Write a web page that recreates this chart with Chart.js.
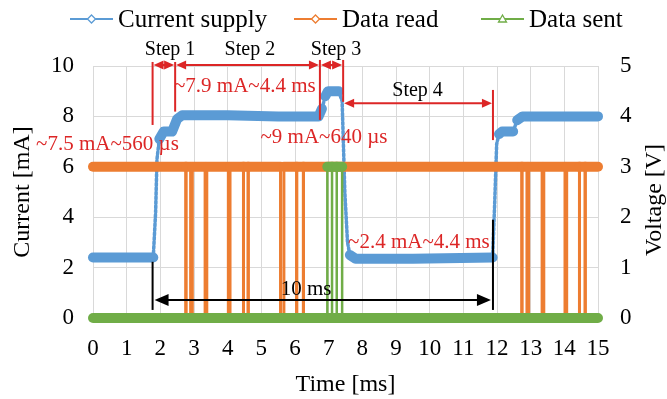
<!DOCTYPE html>
<html>
<head>
<meta charset="utf-8">
<script src="https://cdn.jsdelivr.net/npm/chart.js@4.4.0/dist/chart.umd.min.js"></script>
<style>
html,body{margin:0;padding:0;background:#fff;}
canvas{display:block;}
</style>
</head>
<body>
<canvas id="c" width="667" height="399"></canvas>
<script>
// ---------------- DATA ----------------
// Current supply, left axis [mA]
const currentTime = [0, 0.9, 1.79, 1.86, 1.9, 1.97, 2.1, 2.35, 2.5, 2.65, 4.0, 5.5, 6.7, 6.8, 6.9, 6.98, 7.3, 7.4, 7.48, 7.56, 7.63, 7.8, 9.5, 11.87, 11.93, 11.99, 12.06, 12.15, 12.48, 12.6, 12.76, 14.0, 15.0];
const currentMA   = [2.4, 2.4, 2.4, 4.2, 6.3, 7.1, 7.4, 7.4, 7.9, 8.05, 8.05, 8.0, 8.0, 8.3, 8.8, 9.0, 9.0, 8.6, 5.0, 3.0, 2.5, 2.35, 2.35, 2.4, 4.5, 6.9, 7.3, 7.4, 7.4, 7.85, 8.0, 8.0, 8.0];

// Data read, right axis [V]: idle level and low pulses (start / end time in ms)
const readHighV = 3.0;
const readLowV = 0;
const readPulseStart = [2.76, 2.90, 3.33, 4.02, 4.47, 4.61, 5.57, 6.05, 6.25, 12.74, 12.89, 13.34, 14.02, 14.45, 14.62];
const readPulseEnd   = [2.76, 2.95, 3.38, 4.07, 4.47, 4.61, 5.67, 6.05, 6.25, 12.74, 12.94, 13.39, 14.07, 14.45, 14.62];

// Data sent, right axis [V] (samples in recorded order; the trace returns along 0 V)
const sentTime = [0, 6.96, 6.96, 7.10, 7.10, 7.10, 7.24, 7.24, 7.24, 7.40, 7.40, 6.96, 15];
const sentV    = [0, 0,    3,    3,    0,    3,    3,    0,    3,    3,    0,    0,    0];

// Axis ticks
const timeTicks = [0, 15, 1];      // min, max, step [ms]
const currentTicks = [0, 10, 2];   // [mA]
const voltageTicks = [0, 5, 1];    // [V]

// Annotations (data units: ms, mA)
const stepLineTime = [1.77, 2.44, 6.74, 7.43, 11.88];
const stepLineTop  = [10.16, 10.16, 10.24, 10.24, 9.05];
const stepLineBot  = [7.66, 8.19, 7.86, 8.58, 7.06];
const stepArrowFrom = [1.77, 2.44, 6.74, 7.43];
const stepArrowTo   = [2.44, 6.74, 7.43, 11.88];
const stepArrowLevel = [10.04, 10.04, 10.04, 8.52];
const stepLabels = ['Step 1', 'Step 2', 'Step 3', 'Step 4'];
const stepLabelTime = [2.29, 4.66, 7.22, 9.64];
const stepLabelLevel = [10.44, 10.44, 10.44, 8.79];
const noteLabels = ['~7.5 mA~560 µs', '~7.9 mA~4.4 ms', '~9 mA~640 µs', '~2.4 mA~4.4 ms'];
const noteTime  = [0.43, 4.51, 6.86, 9.68];
const noteLevel = [6.67, 8.98, 6.96, 2.77];
const spanFrom = 1.77, spanTo = 11.88, spanLevel = 0.71;
const spanLineTop = [2.23, 3.9], spanLineBot = 0.32;
const spanLabel = '10 ms', spanLabelTime = 6.33, spanLabelLevel = 0.91;

// ---------------- BUILD ----------------
const currentPts = currentTime.map((t, i) => ({x: t, y: currentMA[i]}));
const readPts = [{x: 0, y: readHighV}];
readPulseStart.forEach((s, i) => {
  const e = readPulseEnd[i];
  readPts.push({x: s, y: readHighV}, {x: s, y: readLowV}, {x: e, y: readLowV}, {x: e, y: readHighV});
});
readPts.push({x: 15, y: readHighV});
const sentPts = sentTime.map((t, i) => ({x: t, y: sentV[i]}));

const FONT = "'Liberation Serif', 'Times New Roman', serif";
const BLUE = '#5B9BD5', ORANGE = '#ED7D31', GREEN = '#70AD47', RED = '#DC2626', GRID = '#D9D9D9';

const steep = c => Math.abs(c.p1.y - c.p0.y) > 2.5 * Math.abs(c.p1.x - c.p0.x);

function arrowHead(ctx, x, y, dir, len, half) {
  ctx.beginPath();
  ctx.moveTo(x, y);
  ctx.lineTo(x - dir * len, y - half);
  ctx.lineTo(x - dir * len, y + half);
  ctx.closePath();
  ctx.fill();
}

function marker(ctx, type, x, y, color) {
  ctx.save();
  ctx.strokeStyle = color; ctx.fillStyle = '#fff'; ctx.lineWidth = 1.3;
  ctx.beginPath();
  if (type === 'diamond') {
    ctx.moveTo(x, y - 4); ctx.lineTo(x + 4, y); ctx.lineTo(x, y + 4); ctx.lineTo(x - 4, y);
  } else {
    ctx.moveTo(x, y - 4); ctx.lineTo(x + 4, y + 3); ctx.lineTo(x - 4, y + 3);
  }
  ctx.closePath(); ctx.fill(); ctx.stroke();
  ctx.restore();
}

const overlay = {
  id: 'overlay',
  afterDraw(chart) {
    const ctx = chart.ctx;
    const xs = chart.scales.x, ys = chart.scales.y;
    const X = v => xs.getPixelForValue(v), Y = v => ys.getPixelForValue(v);
    ctx.save();

    // Red step markers
    ctx.strokeStyle = RED; ctx.fillStyle = RED; ctx.lineWidth = 2;
    stepLineTime.forEach((t, i) => {
      ctx.beginPath();
      ctx.moveTo(X(t), Y(stepLineTop[i]));
      ctx.lineTo(X(t), Y(stepLineBot[i]));
      ctx.stroke();
    });
    stepArrowFrom.forEach((a, i) => {
      const x1 = X(a) + 1, x2 = X(stepArrowTo[i]) - 1, y = Y(stepArrowLevel[i]);
      ctx.beginPath(); ctx.moveTo(x1 + 4, y); ctx.lineTo(x2 - 4, y); ctx.stroke();
      arrowHead(ctx, x1, y, -1, 10, 4.5);
      arrowHead(ctx, x2, y, 1, 10, 4.5);
    });

    // Step labels
    ctx.fillStyle = '#000';
    ctx.font = '20px ' + FONT;
    ctx.textAlign = 'center'; ctx.textBaseline = 'alphabetic';
    stepLabels.forEach((s, i) => ctx.fillText(s, X(stepLabelTime[i]), Y(stepLabelLevel[i])));

    // Red notes
    ctx.fillStyle = RED;
    ctx.font = '21px ' + FONT;
    noteLabels.forEach((s, i) => ctx.fillText(s, X(noteTime[i]), Y(noteLevel[i])));

    // Black 10 ms span
    ctx.strokeStyle = '#000'; ctx.fillStyle = '#000'; ctx.lineWidth = 2;
    [spanFrom, spanTo].forEach((t, i) => {
      ctx.beginPath(); ctx.moveTo(X(t), Y(spanLineTop[i])); ctx.lineTo(X(t), Y(spanLineBot)); ctx.stroke();
    });
    const sy = Y(spanLevel), sx1 = X(spanFrom) + 2, sx2 = X(spanTo) - 2;
    ctx.beginPath(); ctx.moveTo(sx1 + 6, sy); ctx.lineTo(sx2 - 6, sy); ctx.stroke();
    arrowHead(ctx, sx1, sy, -1, 14, 6);
    arrowHead(ctx, sx2, sy, 1, 14, 6);
    ctx.font = '21px ' + FONT;
    ctx.fillText(spanLabel, X(spanLabelTime), Y(spanLabelLevel));

    // Right axis title
    ctx.save();
    ctx.font = '24px ' + FONT;
    ctx.fillStyle = '#000';
    ctx.textAlign = 'center'; ctx.textBaseline = 'middle';
    ctx.translate(655, 200);
    ctx.rotate(-Math.PI / 2);
    ctx.fillText('Voltage [V]', 0, 0);
    ctx.restore();

    // Legend
    const items = chart.data.datasets.map(d => ({label: d.label, color: d.borderColor, marker: d.legendMarker}));
    const starts = [70, 294, 481];
    const ly = 19;
    ctx.font = '25px ' + FONT;
    ctx.textAlign = 'left'; ctx.textBaseline = 'alphabetic';
    items.forEach((it, i) => {
      const x0 = starts[i];
      ctx.strokeStyle = it.color; ctx.lineWidth = 2.2;
      ctx.beginPath(); ctx.moveTo(x0, ly); ctx.lineTo(x0 + 43, ly); ctx.stroke();
      marker(ctx, it.marker, x0 + 21.5, ly, it.color);
      ctx.fillStyle = '#000';
      ctx.fillText(it.label, x0 + 48, 27);
    });

    ctx.restore();
  }
};

const tickFont = {family: FONT, size: 23};

new Chart(document.getElementById('c'), {
  type: 'line',
  data: {
    datasets: [
      {
        label: 'Current supply', legendMarker: 'diamond', data: currentPts, yAxisID: 'y',
        borderColor: BLUE, backgroundColor: BLUE, pointRadius: 0, borderWidth: 10, order: 3,
        borderCapStyle: 'round', borderJoinStyle: 'round', clip: false,
        segment: {
          borderWidth: c => steep(c) ? 3.5 : 10,
          borderDash: c => steep(c) ? [2.5, 2] : []
        }
      },
      {
        label: 'Data read', legendMarker: 'diamond', data: readPts, yAxisID: 'y2',
        borderColor: ORANGE, backgroundColor: ORANGE, pointRadius: 0, borderWidth: 10, order: 2,
        borderCapStyle: 'round', borderJoinStyle: 'miter', clip: false,
        segment: { borderWidth: c => steep(c) ? 3 : 10 }
      },
      {
        label: 'Data sent', legendMarker: 'triangle', data: sentPts, yAxisID: 'y2',
        borderColor: GREEN, backgroundColor: GREEN, pointRadius: 0, borderWidth: 10, order: 1,
        borderCapStyle: 'round', borderJoinStyle: 'miter', clip: false,
        segment: { borderWidth: c => steep(c) ? 2.5 : 10 }
      }
    ]
  },
  options: {
    responsive: false,
    animation: false,
    devicePixelRatio: 1,
    layout: { padding: { top: 66, left: 0, right: 0, bottom: 0 } },
    plugins: { legend: { display: false }, tooltip: { enabled: false } },
    scales: {
      x: {
        type: 'linear', min: timeTicks[0], max: timeTicks[1],
        ticks: { stepSize: timeTicks[2], color: '#000', font: tickFont, padding: 17, maxRotation: 0, autoSkip: false },
        grid: { color: GRID, lineWidth: 1, drawTicks: false },
        border: { display: false },
        title: { display: true, text: 'Time [ms]', color: '#000', font: {family: FONT, size: 24}, padding: {top: 0, bottom: 0} },
        afterFit: s => { s.height = 81; }
      },
      y: {
        position: 'left', min: currentTicks[0], max: currentTicks[1],
        ticks: { stepSize: currentTicks[2], color: '#000', font: tickFont, padding: 19 },
        grid: { color: GRID, lineWidth: 1, drawTicks: false },
        border: { display: false },
        title: { display: true, text: 'Current [mA]', color: '#000', font: {family: FONT, size: 24}, padding: {top: 8, bottom: 8} },
        afterFit: s => { s.width = 93; }
      },
      y2: {
        position: 'right', min: voltageTicks[0], max: voltageTicks[1],
        ticks: { stepSize: voltageTicks[2], color: '#000', font: tickFont, padding: 22 },
        grid: { display: false, drawTicks: false },
        border: { display: false },
        afterFit: s => { s.width = 69; }
      }
    }
  },
  plugins: [overlay]
});
</script>
</body>
</html>
